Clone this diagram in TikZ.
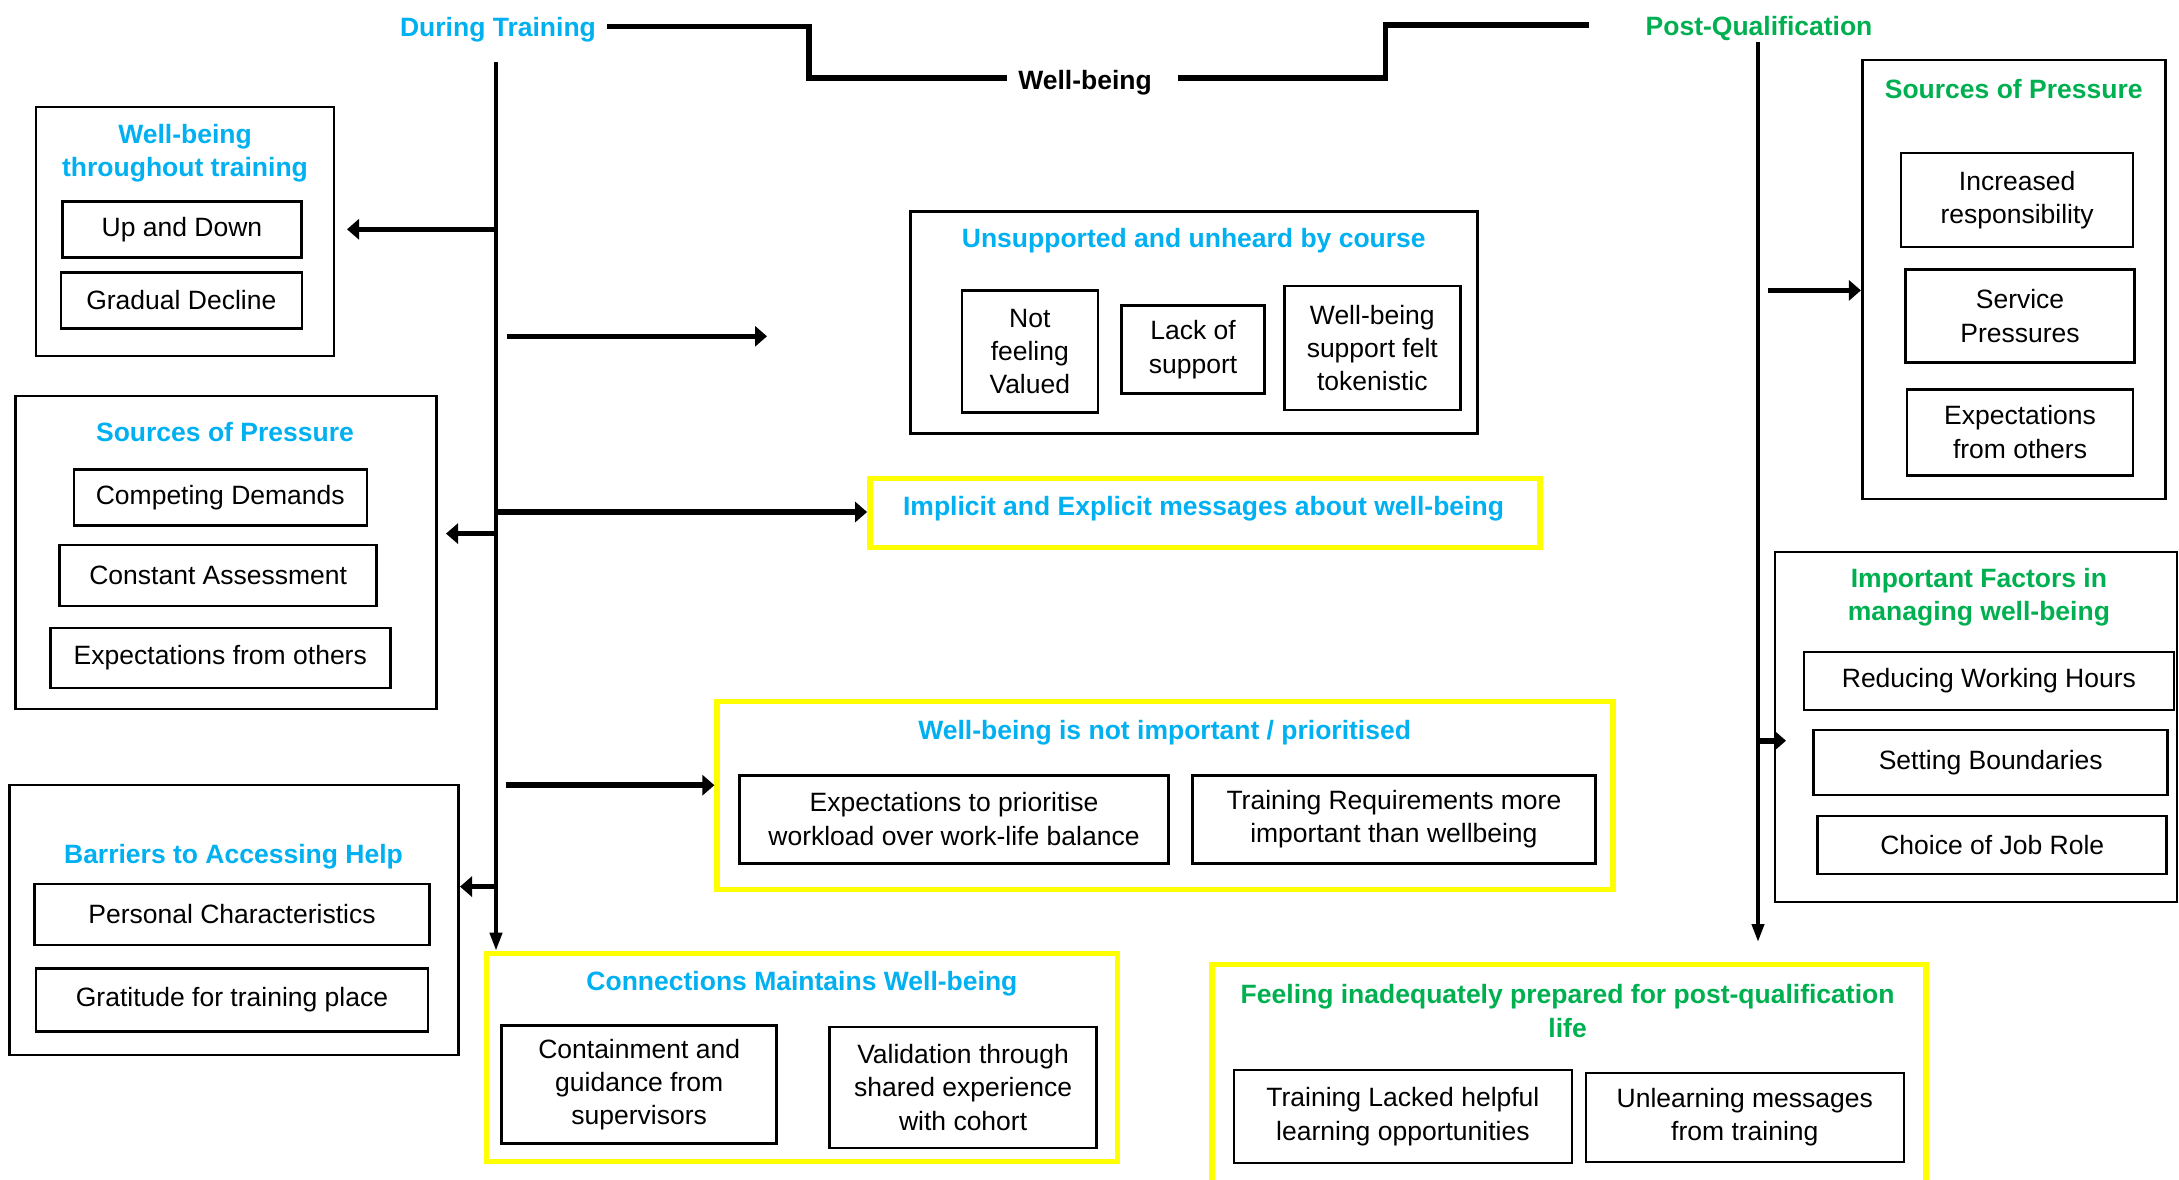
\documentclass[tikz,border=0pt]{standalone}
\usepackage{fontspec}
\setmainfont{Liberation Sans}
\usetikzlibrary{arrows.meta}
\definecolor{tblue}{RGB}{0,176,240}
\definecolor{tgreen}{RGB}{0,176,80}
\definecolor{tyellow}{RGB}{255,255,0}
\begin{document}
\begin{tikzpicture}[x=0.5pt,y=-0.5pt,
  every node/.style={font=\fontsize{13.25}{16.7}\selectfont, align=center, inner sep=0pt},
  wh/.style 2 args={minimum width=#1*0.5pt, minimum height=#2*0.5pt},
  obox/.style={draw=black, line width=1.3pt},
  ibox/.style={draw=black, line width=1.3pt},
  ybox/.style={draw=tyellow, line width=2.8pt},
  ttlb/.style={text=tblue, font=\fontsize{13.25}{16.7}\selectfont\bfseries, yshift=-1.5pt},
  ttlg/.style={text=tgreen, font=\fontsize{13.25}{16.7}\selectfont\bfseries, yshift=-1.5pt},
  ttlk/.style={text=black, font=\fontsize{13.25}{16.7}\selectfont\bfseries, yshift=-1.5pt},
  harr/.style={line width=2.8pt, -{Triangle[length=6pt,width=10pt]}},
  tarr/.style={line width=2pt, -{Triangle[length=9pt,width=6pt]}},
  hdrline/.style={line width=2.8pt},
]
\useasboundingbox (0,0) rectangle (2179,1179);

% ---------- header ----------
\node[ttlb] (dt) at (498,27) {During Training};
\node[ttlk] (wbh) at (1085,80) {Well-being};
\node[ttlg] (pq) at (1759,26) {Post-Qualification};
\draw[hdrline] ([xshift=5.5pt]dt.east |- 0,26.5) -| (809,78) -- ([xshift=-5.5pt]wbh.west |- 0,78);
\draw[hdrline] ([xshift=13pt]wbh.east |- 0,78) -| (1385.5,25) -- ([xshift=-28pt]pq.west |- 0,25);

% ---------- left column ----------
\node[obox, wh={298}{249}] (wbt) at (185,231.5) {};
\node[ttlb] (wbtT) at (185,150) {Well-being\\throughout training};
\node[ibox, wh={239}{56}] (ud) at (182,229.3) {Up and Down};
\node[ibox, wh={241}{56}] (gd) at (181.3,300.2) {Gradual Decline};

\node[obox, wh={421}{313}] (sopL) at (225.7,552.4) {};
\node[ttlb] (sopLT) at (225,429.4) {Sources of Pressure};
\node[ibox, wh={293}{56}] (cd) at (220.3,497.5) {Competing Demands};
\node[ibox, wh={317}{61}] (ca) at (218.2,575.4) {Constant Assessment};
\node[ibox, wh={340}{60}] (efo) at (220.3,658) {Expectations from others};

\node[obox, wh={449}{270}] (bar) at (234.2,920) {};
\node[ttlb] (barT) at (233.5,853.3) {Barriers to Accessing Help};
\node[ibox, wh={395}{61}] (pc) at (232,914.5) {Personal Characteristics};
\node[ibox, wh={392}{63}] (gt) at (232,999.9) {Gratitude for training place};

% ---------- middle column ----------
\node[obox, wh={567}{222}] (uns) at (1193.8,322.4) {};
\node[ttlb] (unsT) at (1193.8,237.6) {Unsupported and unheard by course};
\node[ibox, wh={136}{122}] (nfv) at (1029.8,351.5) {Not\\feeling\\Valued};
\node[ibox, wh={143}{88}] (los) at (1193,349.5) {Lack of\\support};
\node[ibox, wh={176}{124}] (wbs) at (1372.3,348.1) {Well-being\\support felt\\tokenistic};

\node[ybox, wh={670}{69}] (imp) at (1204.9,512.8) {};
\node[ttlb] (impT) at (1203.5,506) {Implicit and Explicit messages about well-being};

\node[ybox, wh={896}{188}] (nip) at (1165.2,795.6) {};
\node[ttlb] (nipT) at (1164.6,729.6) {Well-being is not important / prioritised};
\node[ibox, wh={429}{88}] (etp) at (954,819.2) {Expectations to prioritise\\workload over work-life balance};
\node[ibox, wh={403}{88}] (trm) at (1393.9,819.2) {Training Requirements more\\important than wellbeing};

\node[ybox, wh={631}{208}] (conn) at (801.9,1057.5) {};
\node[ttlb] (connT) at (801.9,981.1) {Connections Maintains Well-being};
\node[ibox, wh={275}{118}] (cgs) at (639.2,1084.6) {Containment and\\guidance from\\supervisors};
\node[ibox, wh={267}{121}] (vse) at (963.1,1087.4) {Validation through\\shared experience\\with cohort};

% ---------- right column ----------
\node[obox, wh={303}{439}] (sopR) at (2013.7,279.3) {};
\node[ttlg] (sopRT) at (2013.7,86.2) {Sources of Pressure};
\node[ibox, wh={232}{94}] (ir) at (2017.1,200.1) {Increased\\responsibility};
\node[ibox, wh={229}{93}] (sp) at (2020,316.1) {Service\\Pressures};
\node[ibox, wh={226}{86}] (efo2) at (2020,432.2) {Expectations\\from others};

\node[obox, wh={402}{350}] (ifm) at (1975.8,726.8) {};
\node[ttlg] (ifmT) at (1978.9,594) {Important Factors in\\managing well-being};
\node[ibox, wh={370}{58}] (rwh) at (1988.9,681) {Reducing Working Hours};
\node[ibox, wh={354}{65}] (sb) at (1990.7,762.3) {Setting Boundaries};
\node[ibox, wh={349}{58}] (cjr) at (1992.2,845) {Choice of Job Role};

\node[ybox, wh={714}{226}] (fip) at (1569,1077.3) {};
\node[ttlg] (fipT) at (1567.6,1008) {Feeling inadequately prepared for post-qualification\\life};
\node[ibox, wh={338}{93}] (tlh) at (1402.9,1116.6) {Training Lacked helpful\\learning opportunities};
\node[ibox, wh={318}{89}] (ulm) at (1744.8,1117.4) {Unlearning messages\\from training};

% ---------- timelines ----------
\coordinate (tlL) at (496,62);
\draw[tarr] (tlL) -- (tlL |- conn.north);
\coordinate (tlR) at (1758,42);
\coordinate (tlRend) at (1758,942);
\draw[tarr] (tlR) -- (tlRend);

% ---------- branch arrows ----------
\coordinate (aWbtS) at (498,229.3);
\coordinate (aWbtE) at (347,229.3);
\draw[harr] (aWbtS) -- (aWbtE);

\coordinate (aUnsS) at (507,336.3);
\coordinate (aUnsE) at (767,336.3);
\draw[harr] (aUnsS) -- (aUnsE);

\coordinate (aImpS) at (496,512);
\draw[harr] (aImpS) -- (aImpS -| imp.west);

\coordinate (aSopS) at (498,533.6);
\coordinate (aSopE) at (446,533.6);
\draw[harr] (aSopS) -- (aSopE);

\coordinate (aNipS) at (506,785.2);
\draw[harr] (aNipS) -- (aNipS -| nip.west);

\coordinate (aBarS) at (498,886.6);
\coordinate (aBarE) at (460,886.6);
\draw[harr] (aBarS) -- (aBarE);

\coordinate (aSopRS) at (1767.7,290.4);
\draw[harr] (aSopRS) -- (aSopRS -| sopR.west);

\coordinate (aIfmS) at (1758,740.7);
\coordinate (aIfmE) at (1786,740.7);
\draw[harr] (aIfmS) -- (aIfmE);
\end{tikzpicture}
\end{document}
